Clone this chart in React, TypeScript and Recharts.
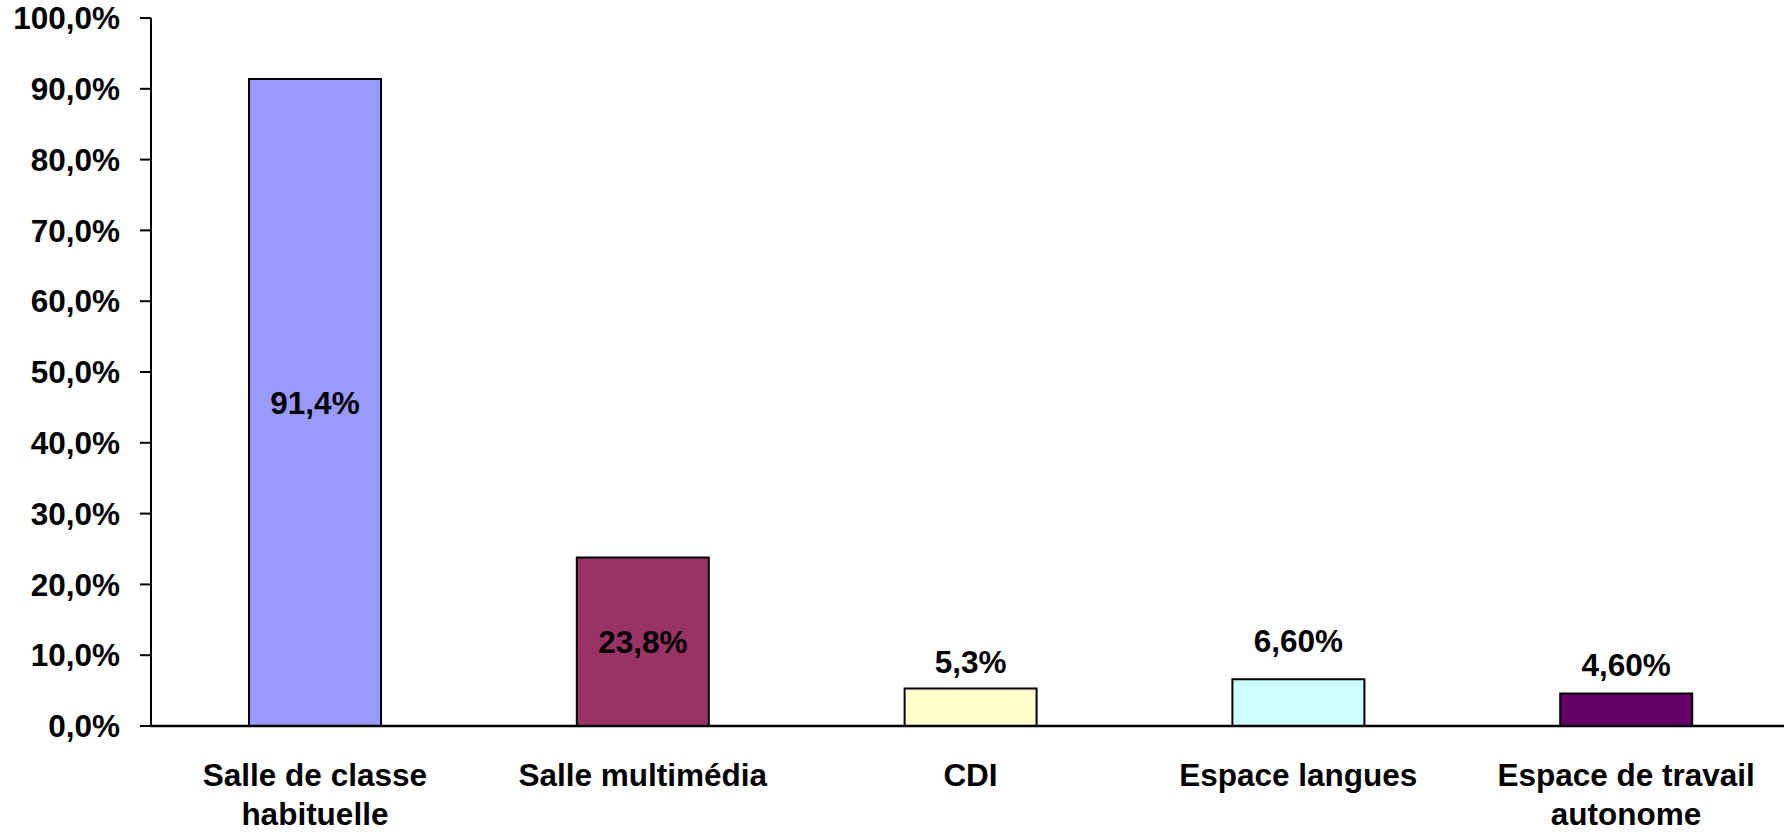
import React from 'react';
import { BarChart, Bar, XAxis, YAxis, Cell, LabelList } from 'recharts';

const categories = ['Salle de classe habituelle', 'Salle multimédia', 'CDI', 'Espace langues', 'Espace de travail autonome'];
const categoryLines = [['Salle de classe', 'habituelle'], ['Salle multimédia'], ['CDI'], ['Espace langues'], ['Espace de travail', 'autonome']];
const values = [0.914, 0.238, 0.053, 0.066, 0.046];
const valueLabels = ['91,4%', '23,8%', '5,3%', '6,60%', '4,60%'];
const yTicks = [0, 0.1, 0.2, 0.3, 0.4, 0.5, 0.6, 0.7, 0.8, 0.9, 1.0];
const boundaryTicks = [0, 1, 2, 3, 4, 5];

// styling (kept separate from the data)
const barColors = ['#9999FF', '#993366', '#FFFFCC', '#CCFFFF', '#660066'];
const labelInside = [true, true, false, false, false];
const labelLift = [0, 0, 27, 38, 29];

const FONT = "'Liberation Sans', Arial, Helvetica, sans-serif";
const FS = 31.5;

const data = categories.map((name, i) => ({ name, idx: i, value: values[i], label: valueLabels[i] }));

const fmtY = (v: number) => (v * 100).toFixed(1).replace('.', ',') + '%';

const CatTick = (props: any) => {
  const { x, y, index } = props;
  const lines = categoryLines[index] || [];
  return (
    <text x={x} y={y} textAnchor="middle" fontFamily={FONT} fontWeight="bold" fontSize={FS} fill="#000">
      {lines.map((l, i) => (
        <tspan key={i} x={x} dy={i === 0 ? 60 : 39}>{l}</tspan>
      ))}
    </text>
  );
};

const ValueLabel = (props: any) => {
  const { x, y, width, height, index } = props;
  const cx = x + width / 2;
  const cy = labelInside[index] ? y + height / 2 : y - labelLift[index];
  return (
    <text x={cx} y={cy} dy="0.355em" textAnchor="middle" fontFamily={FONT} fontWeight="bold" fontSize={FS} fill="#000">
      {valueLabels[index]}
    </text>
  );
};

export default function App() {
  return (
    <div style={{ position: 'absolute', left: 0, top: 0, width: 1784, height: 832, overflow: 'hidden', background: '#fff' }}>
      <BarChart width={1790} height={832} data={data} margin={{ top: 18, right: 0, bottom: 0, left: 0 }}>
        <XAxis
          xAxisId="grid"
          type="number"
          dataKey="idx"
          domain={[0, 5]}
          allowDataOverflow
          ticks={boundaryTicks}
          height={0}
          tick={false}
          axisLine={false}
          tickLine={{ stroke: '#000', strokeWidth: 2 }}
          tickSize={10}
        />
        <XAxis
          xAxisId="cat"
          dataKey="name"
          height={106}
          interval={0}
          tickLine={false}
          tickSize={0}
          tickMargin={0}
          axisLine={{ stroke: '#000', strokeWidth: 2.5 }}
          tick={<CatTick />}
        />
        <YAxis
          width={151}
          domain={[0, 1]}
          ticks={yTicks}
          interval={0}
          tickFormatter={fmtY}
          tickSize={11}
          tickMargin={20}
          axisLine={{ stroke: '#000', strokeWidth: 2 }}
          tickLine={{ stroke: '#000', strokeWidth: 2 }}
          tick={{ fontFamily: FONT, fontWeight: 'bold', fontSize: FS, fill: '#000' }}
        />
        <Bar xAxisId="cat" dataKey="value" barSize={132} stroke="#000" strokeWidth={2} isAnimationActive={false}>
          {data.map((d, i) => (
            <Cell key={d.name} fill={barColors[i]} />
          ))}
          <LabelList dataKey="label" content={<ValueLabel />} />
        </Bar>
      </BarChart>
    </div>
  );
}
